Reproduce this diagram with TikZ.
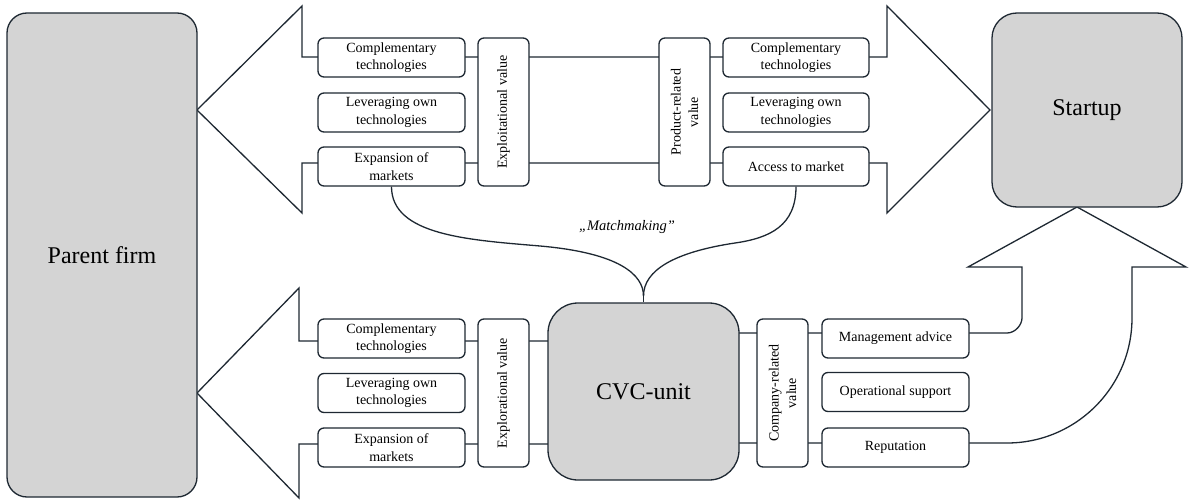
\documentclass[tikz,border=0pt]{standalone}
\usepackage{fontspec}
\setmainfont{Liberation Serif}
\definecolor{ink}{RGB}{30,40,50}
\definecolor{boxgray}{RGB}{212,212,212}
\begin{document}
\begin{tikzpicture}[x=1pt,y=-1pt,line width=1.3pt,
  bigarrow/.style={draw=ink,fill=white,line join=miter},
  actor/.style={draw=ink,fill=boxgray,inner sep=0pt,font=\fontsize{24}{28}\selectfont},
  item/.style={draw=ink,fill=white,rounded corners=6pt,minimum width=147pt,minimum height=39pt,
    inner sep=0pt,align=center,font=\fontsize{14}{17.5}\selectfont},
  vitem/.style={item,rotate=90,minimum width=148pt,minimum height=51pt},
  link/.style={draw=ink}]
\useasboundingbox (0,0) rectangle (1189,500);

% value flows: parent firm <-> startup (top), CVC unit -> parent firm, CVC unit -> startup
\path[bigarrow] (197,110) -- (302,6) -- (302,57) -- (887,57) -- (887,6) -- (990,110)
  -- (887,213) -- (887,163) -- (302,163) -- (302,213) -- cycle;
\path[bigarrow] (197,393) -- (299,288) -- (299,341) -- (643,341) -- (643,444)
  -- (299,444) -- (299,498) -- cycle;
\path[bigarrow] (643,333) -- (1007,333) .. controls (1015.3,333) and (1022,324.7) .. (1022,318)
  -- (1022,267) -- (968,267) -- (1077,207) -- (1186,267) -- (1132,267) -- (1132,318)
  .. controls (1132,387) and (1076,443) .. (1007,443) -- (643,443) -- cycle;

% actors
\node[actor,rounded corners=20pt,minimum width=190pt,minimum height=484pt] (parent) at (102,255) {Parent firm};
\node[actor,rounded corners=25pt,minimum width=190pt,minimum height=194pt] (startup) at (1087,110) {Startup};
\node[actor,rounded corners=30pt,minimum width=191pt,minimum height=177pt] (cvc) at (643.5,391.5) {CVC-unit};

% top band
\node[item] (tl1) at (391.5,57.5) {Complementary\\technologies};
\node[item] (tl2) at (391.5,112.5) {Leveraging own\\technologies};
\node[item] (tl3) at (391.5,166.5) {Expansion of\\markets};
\node[vitem] (exploit) at (503.5,112) {Exploitational value};
\node[vitem] (prod) at (684.5,112) {Product-related\\value};
\node[item,minimum width=146pt] (tr1) at (796,57.5) {Complementary\\technologies};
\node[item,minimum width=146pt] (tr2) at (796,112.5) {Leveraging own\\technologies};
\node[item,minimum width=146pt] (tr3) at (796,166.5) {Access to market};

% bottom band
\node[item] (bl1) at (391.5,338.5) {Complementary\\technologies};
\node[item] (bl2) at (391.5,393) {Leveraging own\\technologies};
\node[item] (bl3) at (391.5,447.5) {Expansion of\\markets};
\node[vitem] (explor) at (503.5,393) {Explorational value};
\node[vitem] (comp) at (782.5,393) {Company-related\\value};
\node[item] (br1) at (895.5,338.5) {Management advice};
\node[item] (br2) at (895.5,392) {Operational support};
\node[item] (br3) at (895.5,447.5) {Reputation};

% matchmaking links
\coordinate (cusp) at (643.5,296);
\path[link] (tl3.south) .. controls +(0,49) and (470,240) .. (540,246)
  .. controls (620,253) and (643.5,275) .. (cusp);
\path[link] (tr3.south) .. controls +(0,39) and (770,238) .. (735,243)
  .. controls (675,252) and (643.5,270) .. (cusp);
\path[link] (cusp) -- (cvc.north);
\node[font=\fontsize{14.5}{17}\selectfont\itshape] (match) at (627,227) {„Matchmaking”};
\end{tikzpicture}
\end{document}
